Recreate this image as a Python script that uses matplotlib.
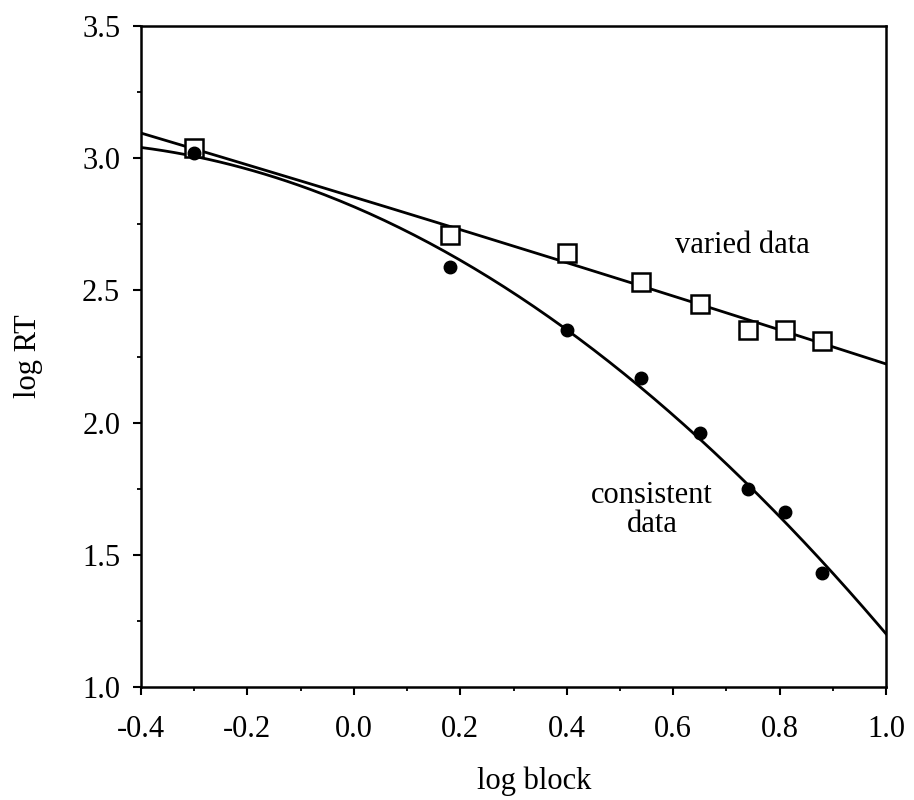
import numpy as np
import matplotlib
matplotlib.use("Agg")
import matplotlib.pyplot as plt
from matplotlib.ticker import MultipleLocator, FormatStrFormatter

# log block for each practice block
log_block = [-0.30, 0.18, 0.40, 0.54, 0.65, 0.74, 0.81, 0.88]

# log RT, varied mapping (open squares)
varied_rt = [3.04, 2.71, 2.64, 2.53, 2.45, 2.35, 2.35, 2.31]
# log RT, consistent mapping (filled dots)
consistent_rt = [3.02, 2.59, 2.35, 2.17, 1.96, 1.75, 1.66, 1.43]

x_ticks = [-0.4, -0.2, 0.0, 0.2, 0.4, 0.6, 0.8, 1.0]
y_ticks = [1.0, 1.5, 2.0, 2.5, 3.0, 3.5]

plt.rcParams['font.family'] = ['Liberation Serif', 'DejaVu Serif']
plt.rcParams['axes.unicode_minus'] = False
FS = 22

W, H = 914, 800
fig = plt.figure(figsize=(W / 100, H / 100), dpi=100)
ax = fig.add_axes([141 / W, 1 - 687 / H, (886 - 141) / W, (687 - 26) / H])

# fitted curves (quadratic in log block) across the whole axis
xs = np.linspace(x_ticks[0], x_ticks[-1], 200)
for ys in (varied_rt, consistent_rt):
    coef = np.polyfit(log_block, ys, 2)
    ax.plot(xs, np.polyval(coef, xs), color='black', lw=2.0, zorder=2)

ax.plot(log_block, varied_rt, ls='none', marker='s', ms=13, mfc='white',
        mec='black', mew=1.8, zorder=3)
ax.plot(log_block, consistent_rt, ls='none', marker='o', ms=9,
        color='black', zorder=4)

ax.text(0.73, 2.67, 'varied data', fontsize=FS, ha='center', va='center')
ax.text(0.56, 1.67, 'consistent\ndata', fontsize=FS, ha='center',
        va='center', multialignment='center', linespacing=1.0)

ax.set_xlim(x_ticks[0], x_ticks[-1])
ax.set_ylim(y_ticks[0], y_ticks[-1])
ax.set_xticks(x_ticks)
ax.set_yticks(y_ticks)
ax.xaxis.set_minor_locator(MultipleLocator(0.1))
ax.yaxis.set_minor_locator(MultipleLocator(0.25))
ax.xaxis.set_major_formatter(FormatStrFormatter('%.1f'))
ax.yaxis.set_major_formatter(FormatStrFormatter('%.1f'))

ax.tick_params(which='major', direction='out', length=6, width=1.5,
               labelsize=FS, top=False, right=False)
ax.tick_params(axis='x', which='major', pad=14)
ax.tick_params(axis='y', which='major', pad=9)
ax.tick_params(which='minor', direction='out', length=3, width=1.3,
               top=False, right=False)
for sp in ax.spines.values():
    sp.set_linewidth(1.8)

ax.set_xlabel('log block', fontsize=FS)
ax.set_ylabel('log RT', fontsize=FS)
ax.xaxis.set_label_coords(0.528, -0.121)
ax.yaxis.set_label_coords(-0.1315, 0.5)

fig.savefig('out.png', dpi=100, facecolor='white')
